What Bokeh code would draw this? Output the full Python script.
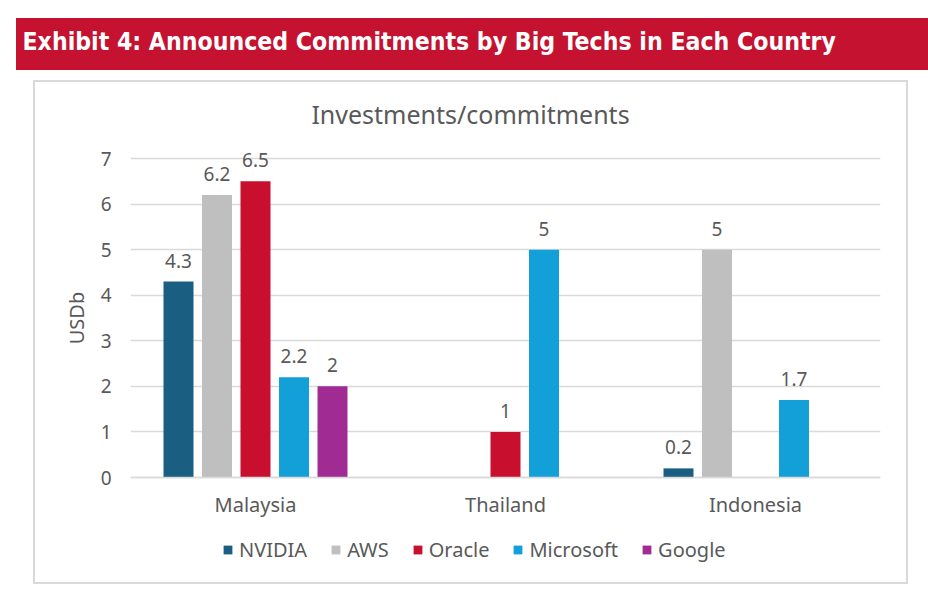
from bokeh.plotting import figure
from bokeh.models import (FactorRange, ColumnDataSource, Legend, Title, Label,
                          LegendItem, Range1d, FixedTicker)
from bokeh.transform import dodge
from bokeh.core.properties import value
from bokeh.embed import file_html
from bokeh.resources import INLINE

# ---- data ----
countries = ["Malaysia", "Thailand", "Indonesia"]
companies = ["NVIDIA", "AWS", "Oracle", "Microsoft", "Google"]
nvidia = [4.3, 0, 0.2]
aws = [6.2, 0, 5]
oracle = [6.5, 1, 0]
microsoft = [2.2, 5, 1.7]
google = [2, 0, 0]
series = [nvidia, aws, oracle, microsoft, google]
colors = ["#1a5e82", "#bfbfbf", "#c8102e", "#139fd8", "#a02b93"]
y_ticks = [0, 1, 2, 3, 4, 5, 6, 7]

title_text = "Exhibit 4:  Announced Commitments by Big Techs in Each Country"
chart_title = "Investments/commitments"
y_label = "USDb"

# ---- style ----
F = "Noto Sans"
GREY = "#595959"
GRID = "#d9d9d9"
RED = "#c41230"
W, H = 928, 608

# layout geometry (pixels)
FR_LEFT, FR_RIGHT = 130, 880
FR_TOP, FR_BOTTOM = 67, 568           # frame symmetric around the 0..7 band
Y0_PX, Y7_PX = 477, 158               # where 0 and 7 sit
ppu = (Y0_PX - Y7_PX) / 7.0
y_start = -(FR_BOTTOM - Y0_PX) / ppu
y_end = (Y0_PX - FR_TOP) / ppu
xpu = (FR_RIGHT - FR_LEFT) / len(countries)


def strip(color, x, y, w, h):
    return f"linear-gradient({color},{color}) {x}px {y}px / {w}px {h}px no-repeat"


backdrop = ", ".join([
    strip(RED, 16, 18, 912, 52),
    strip(GRID, 33, 80, 875, 2),
    strip(GRID, 33, 582, 875, 2),
    strip(GRID, 33, 80, 2, 504),
    strip(GRID, 906, 80, 2, 504),
]) + ", #ffffff"

p = figure(x_range=FactorRange(factors=countries, range_padding=0),
           y_range=Range1d(y_start, y_end), width=W, height=H,
           output_backend="svg", toolbar_location=None,
           min_border_left=FR_LEFT, min_border_right=W - FR_RIGHT,
           min_border_top=FR_TOP, min_border_bottom=H - FR_BOTTOM,
           styles={"background": backdrop})
p.title = None
p.outline_line_color = None
p.background_fill_alpha = 0
p.border_fill_alpha = 0

# banner title in the top panel
p.add_layout(Title(text=title_text, align="left", offset=22 - FR_LEFT, standoff=24,
                   text_font="DejaVu Sans Condensed, Liberation Sans, sans-serif",
                   text_font_size="24.6px", text_font_style="bold",
                   text_color="white"), "above")

# chart title inside the frame area
p.add_layout(Label(x=(470 - FR_LEFT) / xpu, y=(Y0_PX - 113) / ppu, text=chart_title,
                   text_align="center", text_baseline="middle",
                   text_font=F, text_font_size="25px", text_color=GREY))

offsets = [-0.308, -0.154, 0.0, 0.154, 0.308]
items = []
for name, vals, col, off in zip(companies, series, colors, offsets):
    src = ColumnDataSource(dict(x=countries, top=vals))
    r = p.vbar(x=dodge("x", off, range=p.x_range), top="top", bottom=0,
               width=0.12, source=src, fill_color=col, line_color=None)
    items.append(LegendItem(label=name, renderers=[r]))
    lx = [c for c, v in zip(countries, vals) if v != 0]
    ly = [v for v in vals if v != 0]
    lt = [f"{v:g}" for v in vals if v != 0]
    lsrc = ColumnDataSource(dict(x=lx, y=ly, t=lt))
    p.text(x=dodge("x", off, range=p.x_range), y="y", text="t", source=lsrc,
           text_align="center", text_baseline="middle", y_offset=-21,
           text_font=value(F), text_font_size="19px", text_color=GREY)

# axes
p.xaxis.fixed_location = 0
p.xaxis.axis_line_color = GRID
p.xaxis.axis_line_width = 1.5
p.xaxis.major_tick_line_color = None
p.xaxis.major_tick_out = 0
p.xaxis.minor_tick_line_color = None
p.xaxis.major_label_text_font = F
p.xaxis.major_label_text_font_size = "20px"
p.xaxis.major_label_text_color = GREY
p.xaxis.major_label_standoff = 13

p.yaxis.ticker = FixedTicker(ticks=y_ticks)
p.yaxis.axis_line_color = None
p.yaxis.major_tick_line_color = None
p.yaxis.major_tick_out = 0
p.yaxis.minor_tick_line_color = None
p.yaxis.minor_tick_out = 0
p.yaxis.major_label_text_font = F
p.yaxis.major_label_text_font_size = "19px"
p.yaxis.major_label_text_color = GREY
p.yaxis.major_label_standoff = 19
p.yaxis.axis_label = y_label
p.yaxis.axis_label_text_font = F
p.yaxis.axis_label_text_font_size = "20px"
p.yaxis.axis_label_text_font_style = "normal"
p.yaxis.axis_label_text_color = GREY
p.yaxis.axis_label_standoff = 8

p.xgrid.grid_line_color = None
p.ygrid.ticker = FixedTicker(ticks=y_ticks)
p.ygrid.grid_line_color = GRID
p.ygrid.grid_line_width = 1.5

legend = Legend(items=items, orientation="horizontal", location=(92, 5),
                glyph_width=11, glyph_height=11, label_standoff=6, spacing=23,
                padding=0, margin=0, border_line_color=None,
                background_fill_alpha=0,
                label_text_font=F, label_text_font_size="20px",
                label_text_color=GREY)
p.add_layout(legend)

open("out.html", "w").write(file_html(p, INLINE))
